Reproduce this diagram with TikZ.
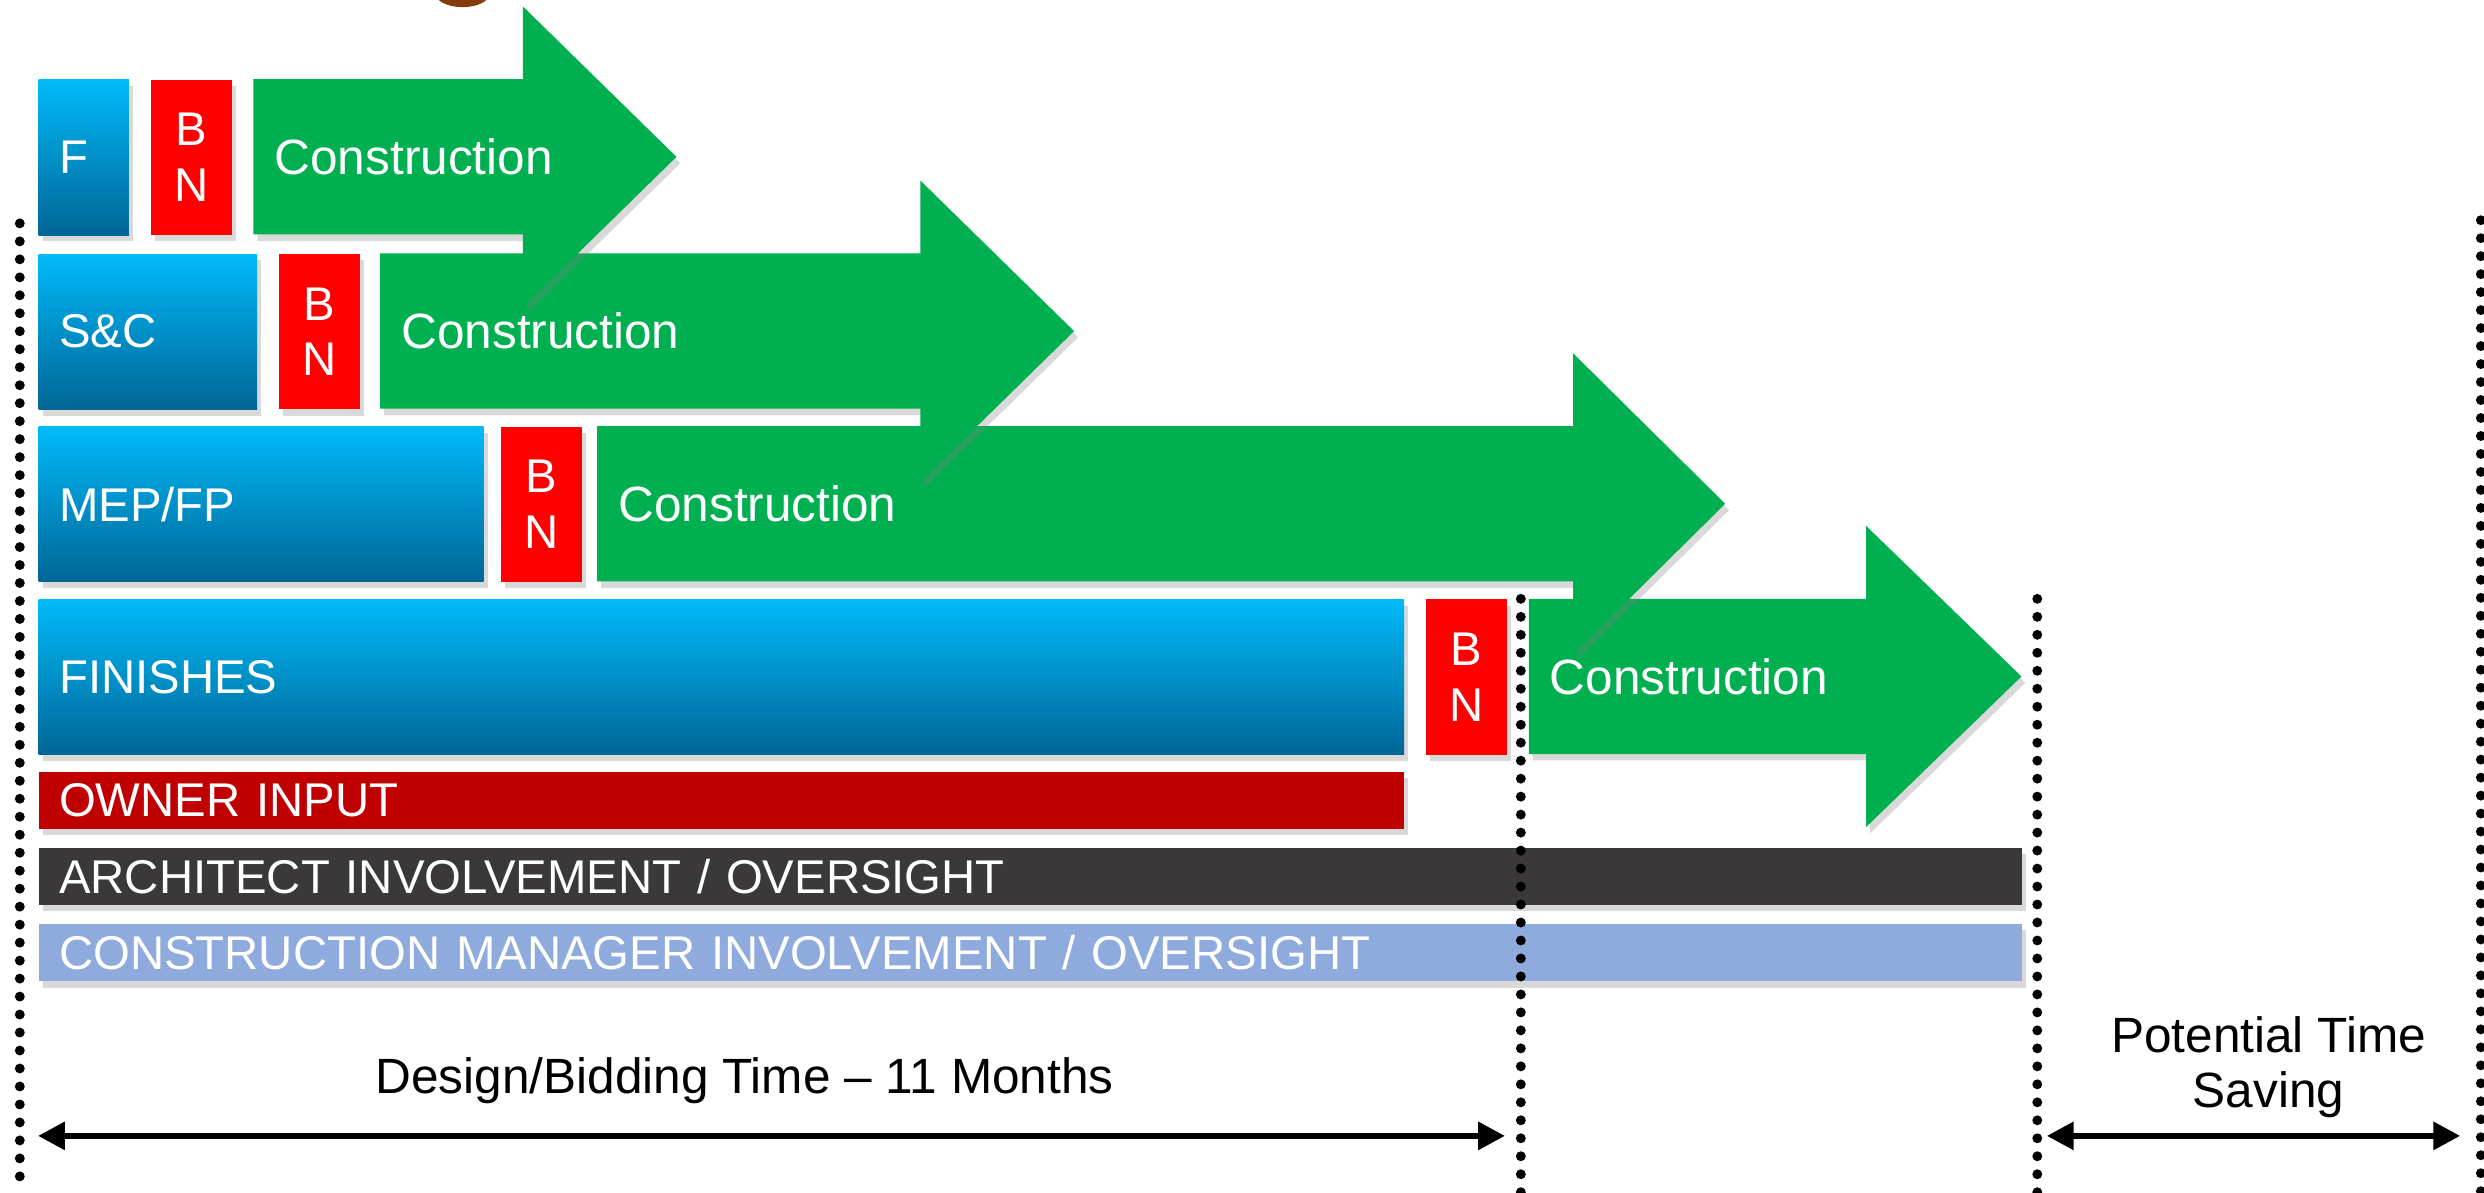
\documentclass[tikz,border=0pt]{standalone}
\usepackage{fontspec}
\setmainfont{Liberation Sans}
\usetikzlibrary{shadows,arrows.meta}

\definecolor{congreen}{RGB}{0,176,80}
\definecolor{bidred}{RGB}{255,0,0}
\definecolor{designtop}{RGB}{0,186,250}
\definecolor{designbot}{RGB}{0,102,150}
\definecolor{ownerred}{RGB}{192,0,0}
\definecolor{archgray}{RGB}{58,56,56}
\definecolor{cmblue}{RGB}{143,170,220}
\definecolor{titlebrown}{RGB}{132,60,12}

\begin{document}
\begin{tikzpicture}
\tikzstyle{shad}=[drop shadow={shadow xshift=0.05cm,shadow yshift=-0.08cm,opacity=0.3}]
\tikzstyle{design}=[shad,anchor=north west,minimum height=1.96cm,inner xsep=0.26cm,inner ysep=0pt,align=left,text=white,font=\fontsize{17}{20}\selectfont,top color=designtop,bottom color=designbot]
\tikzstyle{bid}=[shad,anchor=north west,fill=bidred,minimum width=1.02cm,minimum height=1.96cm,inner sep=0pt,align=center,text=white,font=\fontsize{17}{19.9}\selectfont]
\tikzstyle{bar}=[shad,anchor=north west,minimum height=0.72cm,inner xsep=0.26cm,inner ysep=0pt,align=left,text=white,font=\fontsize{17}{20}\selectfont]
\tikzstyle{contxt}=[anchor=west,inner sep=0pt,text=white,font=\fontsize{17.8}{21}\selectfont]
\tikzstyle{dotline}=[line width=0.125cm,line cap=round,dash pattern=on 0pt off 0.227cm]
\tikzstyle{timeline}=[line width=0.08cm,{Triangle[length=0.34cm,width=0.34cm]}-{Triangle[length=0.34cm,width=0.34cm]}]
\useasboundingbox (0,0) rectangle (31.36,-15.06);

% bit of the cut-off title
\fill[titlebrown] (5.84,0.08) ellipse (0.34 and 0.17);

% design packages and bid windows
\node[design,text width=0.62cm] (f) at (0.48,-1.00) {F};
\node[bid] (bn1) at (1.90,-1.00) {B\\N};
\node[design,text width=2.24cm] (sc) at (0.48,-3.20) {S\&C};
\node[bid] (bn2) at (3.52,-3.20) {B\\N};
\node[design,text width=5.10cm] (mep) at (0.48,-5.38) {MEP/FP};
\node[bid] (bn3) at (6.32,-5.38) {B\\N};
\node[design,text width=16.72cm] (fin) at (0.48,-7.56) {FINISHES};
\node[bid] (bn4) at (18.00,-7.56) {B\\N};

% construction arrows, lowest first
\foreach \n/\a/\b/\c/\y in {4/19.30/23.56/25.52/-7.56, 3/7.54/19.86/21.78/-5.38, 2/4.80/11.62/13.56/-3.20, 1/3.20/6.60/8.54/-1.00}{
  \fill[congreen,shad] (\a,\y) -- (\b,\y) -- (\b,\y+0.92) -- (\c,\y-0.98) -- (\b,\y-2.88) -- (\b,\y-1.96) -- (\a,\y-1.96) -- cycle;
  \node[contxt] (con\n) at (\a+0.26,\y-0.98) {Construction};
}

% involvement bars
\node[bar,fill=ownerred,text width=16.72cm] (owner) at (0.48,-9.74) {OWNER INPUT};
\node[bar,fill=archgray,text width=24.52cm] (arch) at (0.48,-10.70) {ARCHITECT INVOLVEMENT / OVERSIGHT};
\node[bar,fill=cmblue,text width=24.52cm] (cm) at (0.48,-11.66) {CONSTRUCTION MANAGER INVOLVEMENT / OVERSIGHT};

% dotted markers
\coordinate (lt) at (0.25,-2.82);
\coordinate (lb) at (0.25,-15.06);
\coordinate (mt) at (19.20,-7.56);
\coordinate (mb) at (19.20,-15.06);
\coordinate (rt) at (25.72,-7.56);
\coordinate (rb) at (25.72,-15.06);
\coordinate (et) at (31.32,-2.78);
\coordinate (eb) at (31.32,-15.06);
\draw[dotline] (lt) -- (lb);
\draw[dotline] (mt) -- (mb);
\draw[dotline] (rt) -- (rb);
\draw[dotline] (et) -- (eb);

% time spans
\coordinate (ds) at (0.48,-14.34);
\coordinate (de) at (19.00,-14.34);
\coordinate (ps) at (25.84,-14.34);
\coordinate (pe) at (31.06,-14.34);
\draw[timeline] (ds) -- (de);
\draw[timeline] (ps) -- (pe);
\node[anchor=base,font=\fontsize{17.8}{21}\selectfont] (designlbl) at (9.40,-13.80) {Design/Bidding Time – 11 Months};
\node[anchor=north,align=center,font=\fontsize{17.8}{19.9}\selectfont] (savelbl) at (28.64,-12.71) {Potential Time\\Saving};
\end{tikzpicture}
\end{document}
